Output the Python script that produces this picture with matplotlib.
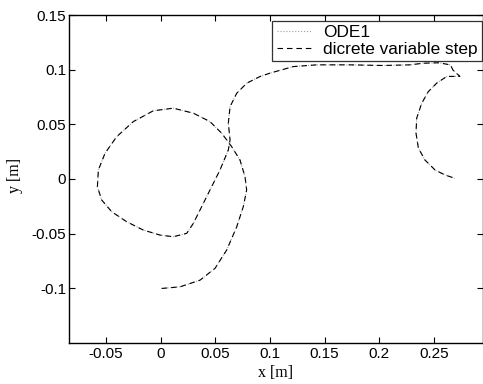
import matplotlib
matplotlib.use("Agg")
import matplotlib.pyplot as plt

# trajectory (metres)
step_x = [0.0009, 0.0177, 0.036, 0.0497, 0.0604, 0.0696, 0.0756, 0.0787, 0.0772,
          0.0726, 0.065, 0.0559, 0.0451, 0.0299, 0.0115, -0.0068, -0.0251, -0.0403,
          -0.051, -0.0571, -0.058, -0.054, -0.0449, -0.0311, -0.0159, -0.0006, 0.0115,
          0.0238, 0.0299, 0.036, 0.0451, 0.0543, 0.0619, 0.0635, 0.0619, 0.0635,
          0.0696, 0.0788, 0.0909, 0.1, 0.1214, 0.1429, 0.1733, 0.2038, 0.2283, 0.2405,
          0.255, 0.2655, 0.2675, 0.274, 0.262, 0.2527, 0.245, 0.239, 0.2344, 0.2338,
          0.236, 0.242, 0.2512, 0.2603, 0.2695]
step_y = [-0.1003, -0.0988, -0.0927, -0.0819, -0.0651, -0.0438, -0.0254, -0.0101,
          0.0021, 0.0174, 0.0296, 0.0419, 0.0526, 0.0603, 0.0649, 0.0625, 0.0526,
          0.0388, 0.0236, 0.0083, -0.0071, -0.0193, -0.030, -0.0392, -0.0468, -0.0514,
          -0.0529, -0.0498, -0.0406, -0.0284, -0.0101, 0.0083, 0.0266, 0.0358, 0.0511,
          0.0663, 0.0786, 0.0878, 0.0939, 0.097, 0.103, 0.1046, 0.1046, 0.104, 0.1046,
          0.1061, 0.1065, 0.1045, 0.1, 0.094, 0.094, 0.0878, 0.080, 0.0694, 0.0557,
          0.0419, 0.0282, 0.0174, 0.0083, 0.0037, 0.0006]

# ODE1 follows the same path
ode1_x = list(step_x)
ode1_y = list(step_y)

xticks = [-0.05, 0, 0.05, 0.1, 0.15, 0.2, 0.25]
xlabels = ['-0.05', '0', '0.05', '0.1', '0.15', '0.2', '0.25']
yticks = [-0.1, -0.05, 0, 0.05, 0.1, 0.15]
ylabels = ['-0.1', '-0.05', '0', '0.05', '0.1', '0.15']

plt.rcParams['font.family'] = ['Liberation Sans', 'DejaVu Sans']

fig = plt.figure(figsize=(4.83, 3.84), dpi=100)
ax = fig.add_axes([69 / 483, 1 - 342.7 / 384, 414.5 / 483, 327.4 / 384])

ax.plot(ode1_x, ode1_y, ':', color='#a0a0a0', lw=0.8, label='ODE1')
ax.plot(step_x, step_y, '--', color='black', lw=0.8, dashes=(5, 3.5),
        label='dicrete variable step')

ax.set_xlim(-0.084, 0.2956)
ax.set_ylim(-0.15, 0.15)
ax.set_xticks(xticks)
ax.set_xticklabels(xlabels)
ax.set_yticks(yticks)
ax.set_yticklabels(ylabels)
ax.tick_params(direction='in', top=True, right=True, length=4, width=0.8,
               labelsize=11)
ax.tick_params(axis='x', pad=3)
ax.tick_params(axis='y', pad=2)
for s in ax.spines.values():
    s.set_linewidth(1.0)

fig.text(276 / 483, 1 - 373 / 384, 'x [m]', family='Liberation Serif',
         fontsize=11.5, ha='center', va='center')
fig.text(15 / 483, 1 - 175 / 384, 'y [m]', family='Liberation Serif',
         fontsize=11.5, ha='center', va='center', rotation=90)

leg = ax.legend(loc='upper right', bbox_to_anchor=(482 / 483, 1 - 20.5 / 384),
                bbox_transform=fig.transFigure, fontsize=12.4, frameon=True,
                fancybox=False, edgecolor='black', borderpad=0.25,
                labelspacing=0.12, handlelength=2.0, handletextpad=0.7,
                borderaxespad=0)
leg.get_frame().set_linewidth(0.9)

fig.savefig('out.png', dpi=100)
